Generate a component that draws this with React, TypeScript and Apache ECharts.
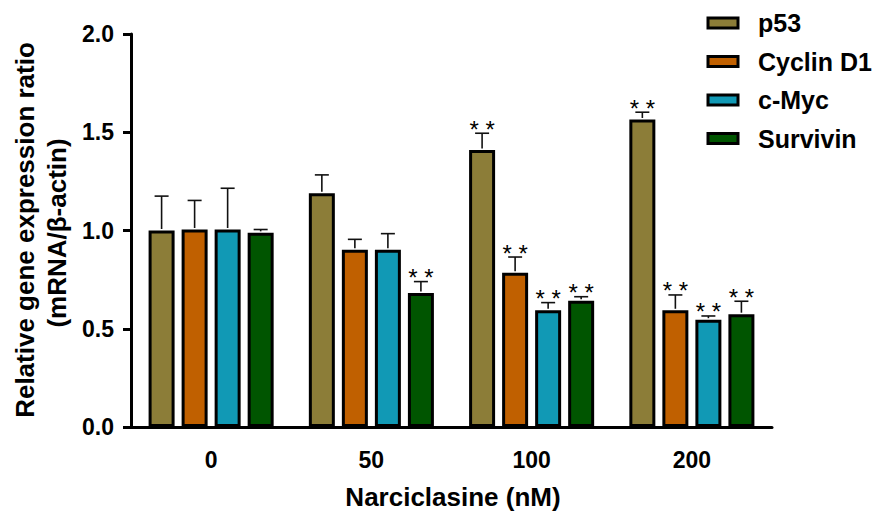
import React, { useEffect, useRef } from "react";
import * as echarts from "echarts";

const categories = ["0", "50", "100", "200"];
const genes = ["p53", "Cyclin D1", "c-Myc", "Survivin"];
const colors = ["#8C7D38", "#C06000", "#1199B5", "#005500"];

const p53Mean = [1.0, 1.19, 1.41, 1.565];
const p53Err = [0.175, 0.093, 0.085, 0.037];
const cyclinMean = [1.005, 0.902, 0.785, 0.594];
const cyclinErr = [0.148, 0.053, 0.08, 0.078];
const mycMean = [1.005, 0.902, 0.594, 0.546];
const mycErr = [0.21, 0.082, 0.039, 0.019];
const survMean = [0.988, 0.682, 0.643, 0.574];
const survErr = [0.017, 0.058, 0.02, 0.066];

const p53Sig = [0, 0, 1, 1];
const cyclinSig = [0, 0, 1, 1];
const mycSig = [0, 0, 1, 1];
const survSig = [0, 1, 1, 1];

const yTicks = [0, 0.5, 1.0, 1.5, 2.0];

const means = [p53Mean, cyclinMean, mycMean, survMean];
const errs = [p53Err, cyclinErr, mycErr, survErr];
const sigs = [p53Sig, cyclinSig, mycSig, survSig];

const BAR_W = 26;
const GAP_RATIO = 0.27;
const STEP = BAR_W * (1 + GAP_RATIO);
const FONT = "'Liberation Sans', Arial, sans-serif";

export default function App() {
  const ref = useRef<HTMLDivElement>(null);
  useEffect(() => {
    if (!ref.current) return;
    const chart = echarts.init(ref.current, null, { renderer: "svg" });
    const errData: number[][] = [];
    means.forEach((m, s) =>
      m.forEach((v, c) => errData.push([c, s, v, errs[s][c], sigs[s][c]]))
    );
    const barSeries = genes.map((g, i) => ({
      name: g,
      type: "bar",
      data: means[i],
      barWidth: BAR_W,
      barGap: `${GAP_RATIO * 100}%`,
      itemStyle: { color: colors[i], borderColor: "#000", borderWidth: 3 },
      z: 2,
    }));
    chart.setOption({
      animation: false,
      textStyle: { fontFamily: FONT },
      grid: { left: 131, right: 103, top: 34, bottom: 88, containLabel: false },
      legend: {
        orient: "vertical",
        left: 701.5,
        top: 5,
        icon: "rect",
        itemWidth: 30,
        itemHeight: 10,
        itemGap: 12.5,
        data: genes,
        itemStyle: { borderColor: "#000", borderWidth: 3 },
        textStyle: {
          fontSize: 25,
          fontWeight: "bold",
          color: "#000",
          fontFamily: FONT,
          padding: [0, 0, 0, 15],
          lineHeight: 26,
        },
      },
      xAxis: {
        type: "category",
        data: categories,
        axisLine: { lineStyle: { color: "#000", width: 3 } },
        axisTick: { alignWithLabel: true, length: 10, lineStyle: { width: 3, color: "#000" } },
        axisLabel: {
          fontSize: 23,
          fontWeight: "bold",
          color: "#000",
          margin: 21,
          fontFamily: FONT,
        },
      },
      yAxis: {
        type: "value",
        min: yTicks[0],
        max: yTicks[yTicks.length - 1],
        interval: 0.5,
        splitLine: { show: false },
        axisLine: { show: true, lineStyle: { color: "#000", width: 3 } },
        axisTick: { show: true, length: 8, lineStyle: { width: 3, color: "#000" } },
        axisLabel: {
          fontSize: 23,
          fontWeight: "bold",
          color: "#000",
          margin: 17,
          fontFamily: FONT,
          formatter: (v: number) => v.toFixed(1),
        },
      },
      graphic: [
        {
          type: "text",
          x: 25,
          y: 230,
          rotation: Math.PI / 2,
          style: {
            text: "Relative gene expression ratio",
            fontSize: 26,
            fontWeight: "bold",
            fontFamily: FONT,
            fill: "#000",
            align: "center",
            verticalAlign: "middle",
          },
        },
        {
          type: "text",
          x: 57,
          y: 233,
          rotation: Math.PI / 2,
          style: {
            text: "(mRNA/β-actin)",
            fontSize: 26,
            fontWeight: "bold",
            fontFamily: FONT,
            fill: "#000",
            align: "center",
            verticalAlign: "middle",
          },
        },
        {
          type: "text",
          x: 453,
          y: 497,
          style: {
            text: "Narciclasine (nM)",
            fontSize: 26,
            fontWeight: "bold",
            fontFamily: FONT,
            fill: "#000",
            align: "center",
            verticalAlign: "middle",
          },
        },
      ],
      series: [
        ...barSeries,
        {
          type: "custom",
          name: "err",
          data: errData,
          z: 3,
          encode: { x: 0, y: 2 },
          renderItem: (params: any, api: any) => {
            const c = api.value(0);
            const s = api.value(1);
            const m = api.value(2);
            const e = api.value(3);
            const sig = api.value(4);
            const base = api.coord([c, m]);
            const top = api.coord([c, m + e]);
            const x = base[0] + (s - 1.5) * STEP;
            const children: any[] = [
              {
                type: "line",
                shape: { x1: x, y1: base[1] - 1.5, x2: x, y2: top[1] },
                style: { stroke: "#111", lineWidth: 1.6 },
              },
              {
                type: "line",
                shape: { x1: x - 7, y1: top[1], x2: x + 7, y2: top[1] },
                style: { stroke: "#111", lineWidth: 1.6 },
              },
            ];
            if (sig) {
              children.push({
                type: "text",
                x: x,
                y: top[1] + 8,
                style: {
                  text: "* *",
                  fontSize: 24,
                  fontFamily: FONT,
                  fill: "#000",
                  align: "center",
                  verticalAlign: "bottom",
                },
              });
            }
            return { type: "group", children };
          },
        },
      ],
    });
    return () => chart.dispose();
  }, []);
  return (
    <div
      ref={ref}
      style={{ position: "absolute", left: 0, top: 0, width: 875, height: 515 }}
    />
  );
}
